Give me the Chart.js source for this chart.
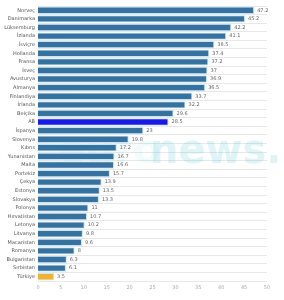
<!DOCTYPE html>
<html>
<head>
<meta charset="utf-8">
<script src="https://cdn.jsdelivr.net/npm/chart.js@4"></script>
<style>
  html, body { margin: 0; padding: 0; background: #fff; }
  canvas { display: block; }
</style>
</head>
<body>
<canvas id="chart" width="284" height="300"></canvas>
<script>
const categories = [
  'Norveç', 'Danimarka', 'Lüksemburg', 'İzlanda', 'İsviçre', 'Hollanda', 'Fransa', 'İsveç',
  'Avusturya', 'Almanya', 'Finlandiya', 'İrlanda', 'Belçika', 'AB', 'İspanya', 'Slovenya',
  'Kıbrıs', 'Yunanistan', 'Malta', 'Portekiz', 'Çekya', 'Estonya', 'Slovakya', 'Polonya',
  'Hırvatistan', 'Letonya', 'Litvanya', 'Macaristan', 'Romanya', 'Bulgaristan', 'Sırbistan', 'Türkiye'
];
const values = [
  47.2, 45.2, 42.2, 41.1, 38.5, 37.4, 37.2, 37.0,
  36.9, 36.5, 33.7, 32.2, 29.6, 28.5, 23, 19.8,
  17.2, 16.7, 16.6, 15.7, 13.9, 13.5, 13.3, 11,
  10.7, 10.2, 9.8, 9.6, 8.0, 6.3, 6.1, 3.5
];
const xTicks = [0, 5, 10, 15, 20, 25, 30, 35, 40, 45, 50];

const barColors = categories.map(c => c === 'AB' ? '#1a1ae6' : c === 'Türkiye' ? '#f0b232' : '#3672a0');

const watermark = {
  id: 'watermark',
  beforeDatasetsDraw(chart) {
    const ctx = chart.ctx;
    ctx.save();
    ctx.font = 'bold 40px "DejaVu Sans"';
    ctx.textBaseline = 'alphabetic';
    ctx.fillStyle = 'rgba(90, 200, 215, 0.08)';
    ctx.fillText('euro', 58, 163);
    ctx.fillStyle = 'rgba(90, 200, 215, 0.2)';
    ctx.fillText('news.', 150, 163);
    ctx.restore();
  }
};

const valueLabels = {
  id: 'valueLabels',
  afterDatasetsDraw(chart) {
    const ctx = chart.ctx;
    const meta = chart.getDatasetMeta(0);
    ctx.save();
    ctx.font = '5px "DejaVu Sans"';
    ctx.fillStyle = '#666';
    ctx.textBaseline = 'middle';
    meta.data.forEach((bar, i) => {
      ctx.fillText(String(values[i]), bar.x + 3, bar.y);
    });
    ctx.restore();
  }
};

new Chart(document.getElementById('chart'), {
  type: 'bar',
  data: {
    labels: categories,
    datasets: [{
      data: values,
      backgroundColor: barColors,
      borderColor: '#c6e6f4',
      borderWidth: 1,
      barPercentage: 0.95,
      categoryPercentage: 0.9
    }]
  },
  options: {
    indexAxis: 'y',
    responsive: false,
    devicePixelRatio: 1,
    animation: false,
    layout: { padding: { top: 2, right: 17, left: 0, bottom: 0 } },
    plugins: { legend: { display: false }, tooltip: { enabled: false } },
    scales: {
      x: {
        min: 0,
        max: 50,
        afterBuildTicks: axis => { axis.ticks = xTicks.map(v => ({ value: v })); },
        afterFit: scale => { scale.height = 19; },
        grid: { display: false, drawTicks: false },
        border: { display: false },
        ticks: { font: { size: 5, family: 'DejaVu Sans' }, color: '#aaa', padding: 4 }
      },
      y: {
        afterFit: scale => { scale.width = 38; },
        grid: { color: '#e8e8e8', lineWidth: 1, drawTicks: false },
        border: { display: false },
        ticks: { font: { size: 5, family: 'DejaVu Sans' }, color: '#555', padding: 3, autoSkip: false }
      }
    }
  },
  plugins: [watermark, valueLabels]
});
</script>
</body>
</html>
